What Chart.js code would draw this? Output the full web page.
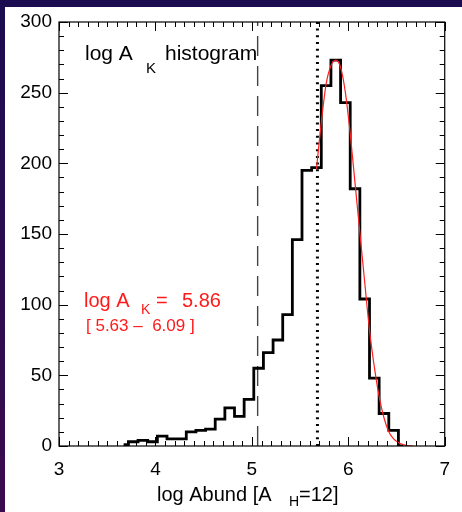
<!DOCTYPE html>
<html>
<head>
<meta charset="utf-8">
<script src="https://cdn.jsdelivr.net/npm/chart.js@4.4.0/dist/chart.umd.min.js"></script>
<style>
  html, body { margin: 0; padding: 0; }
  body { width: 462px; height: 512px; overflow: hidden;
         background: linear-gradient(to bottom, #1b0c52, #3c0b4f); }
  #wrap { position: absolute; left: 0; top: 0; width: 462px; height: 512px; }
</style>
</head>
<body>
<div id="wrap"><canvas id="hist" width="462" height="512"></canvas></div>
<script>
// histogram bins (log A_K), plotted as IDL psym=10 steps
const binCenters = [3.67, 3.77, 3.87, 3.97, 4.07, 4.17, 4.27, 4.37, 4.47, 4.57,
                    4.67, 4.77, 4.87, 4.97, 5.07, 5.17, 5.27, 5.37, 5.47, 5.57,
                    5.67, 5.77, 5.87, 5.97, 6.07, 6.17, 6.27, 6.37, 6.47, 6.57];
const counts = [1, 3, 4, 3, 7, 5, 5, 10, 11, 12,
                19, 27, 21, 33, 55, 66, 75, 93, 146, 195,
                197, 255, 273, 243, 182, 104, 48, 23, 11, 0];

// red fit
const fitX = [5.67, 5.72, 5.77, 5.82, 5.87, 5.92, 5.97, 6.02, 6.07, 6.12, 6.17,
              6.22, 6.27, 6.32, 6.37, 6.42, 6.47, 6.52, 6.57, 6.62, 6.67];
const fitY = [196, 229, 256, 269, 273, 268, 250, 221, 186, 151, 116,
              82, 56, 35, 20, 10, 5, 2.5, 1, 0.3, 0];

const dashedAt = 5.06;
const dottedAt = 5.68;
const xTicks = [3, 4, 5, 6, 7];
const yTicks = [0, 50, 100, 150, 200, 250, 300];

const FONT = "'Liberation Sans', Arial, Helvetica, sans-serif";

function pts(xs, ys) {
  return xs.map((x, i) => ({ x: x, y: ys[i] }));
}

const frame = {
  id: 'frame',
  beforeDraw(chart) {
    const ctx = chart.ctx;
    ctx.save();
    ctx.fillStyle = '#ffffff';
    ctx.fillRect(5, 7, chart.width - 5, chart.height - 7);
    ctx.restore();
  }
};

// IDL style box with inward ticks on all four sides
const boxTicks = {
  id: 'boxTicks',
  afterDatasetsDraw(chart) {
    const ctx = chart.ctx;
    const a = chart.chartArea;
    const xs = chart.scales.x, ys = chart.scales.y;
    ctx.save();
    ctx.strokeStyle = '#000';
    ctx.lineWidth = 1.2;
    ctx.strokeRect(a.left, a.top, a.right - a.left, a.bottom - a.top);
    ctx.lineWidth = 1;
    ctx.beginPath();
    for (let i = 0; i <= 40; i++) {
      const v = 3 + i * 0.1;
      const px = Math.round(xs.getPixelForValue(v)) + 0.5;
      const len = (i % 10 === 0) ? 9 : 5;
      ctx.moveTo(px, a.bottom); ctx.lineTo(px, a.bottom - len);
      ctx.moveTo(px, a.top); ctx.lineTo(px, a.top + len);
    }
    for (let i = 0; i <= 30; i++) {
      const v = i * 10;
      const py = Math.round(ys.getPixelForValue(v)) + 0.5;
      const len = (i % 5 === 0) ? 9 : 5;
      ctx.moveTo(a.left, py); ctx.lineTo(a.left + len, py);
      ctx.moveTo(a.right, py); ctx.lineTo(a.right - len, py);
    }
    ctx.stroke();
    ctx.restore();
  }
};

function txt(ctx, s, x, y, size, color) {
  ctx.font = size + 'px ' + FONT;
  ctx.fillStyle = color;
  ctx.fillText(s, x, y);
}

const labels = {
  id: 'labels',
  afterDraw(chart) {
    const ctx = chart.ctx;
    ctx.save();
    ctx.textAlign = 'left';
    ctx.textBaseline = 'alphabetic';
    // title in the box
    txt(ctx, 'log A', 85, 60, 21, '#000');
    txt(ctx, 'K', 146, 73, 15, '#000');
    txt(ctx, 'histogram', 165, 60, 21, '#000');
    // red result
    txt(ctx, 'log A', 84, 307, 20, '#ff1a1a');
    txt(ctx, 'K', 141, 314, 14, '#ff1a1a');
    txt(ctx, '=', 156, 307, 20, '#ff1a1a');
    txt(ctx, '5.86', 182, 307, 20, '#ff1a1a');
    txt(ctx, '[ 5.63 \u2013  6.09 ]', 86, 331, 17, '#ff1a1a');
    // x axis title
    txt(ctx, 'log Abund [A', 157, 501, 20, '#000');
    txt(ctx, 'H', 289, 506, 14, '#000');
    txt(ctx, '=12]', 299, 501, 20, '#000');
    ctx.restore();
  }
};

new Chart(document.getElementById("hist"), {
  type: 'line',
  data: {
    datasets: [
      {
        label: 'fit',
        data: pts(fitX, fitY),
        borderColor: '#ff2020',
        borderWidth: 1.2,
        pointRadius: 0,
        tension: 0.4,
        cubicInterpolationMode: 'monotone',
        fill: false
      },
      {
        label: 'log A_K histogram',
        data: pts(binCenters, counts),
        borderColor: '#000',
        borderWidth: 2.8,
        pointRadius: 0,
        stepped: 'middle',
        fill: false
      },
      {
        label: 'dotted',
        data: pts([dottedAt, dottedAt], [0, 300]),
        borderColor: '#000',
        borderWidth: 3,
        borderDash: [2, 4.7],
        pointRadius: 0
      },
      {
        label: 'dashed',
        data: pts([dashedAt, dashedAt], [0, 300]),
        borderColor: '#444',
        borderWidth: 1.4,
        borderDash: [20, 10],
        pointRadius: 0
      }
    ]
  },
  options: {
    responsive: false,
    animation: false,
    events: [],
    layout: { padding: { top: 22, right: 16, left: 0, bottom: 0 } },
    plugins: { legend: { display: false }, tooltip: { enabled: false } },
    scales: {
      x: {
        type: 'linear', min: 3, max: 7,
        grid: { display: false, drawTicks: false },
        border: { display: false },
        afterBuildTicks: s => { s.ticks = xTicks.map(v => ({ value: v })); },
        ticks: { color: '#000', font: { family: FONT, size: 19 }, padding: 12, maxRotation: 0 },
        afterFit: s => { s.height = 66; }
      },
      y: {
        min: 0, max: 300,
        grid: { display: false, drawTicks: false },
        border: { display: false },
        afterBuildTicks: s => { s.ticks = yTicks.map(v => ({ value: v })); },
        ticks: { color: '#000', font: { family: FONT, size: 19 }, padding: 7 },
        afterFit: s => { s.width = 59; }
      }
    }
  },
  plugins: [frame, boxTicks, labels]
});
</script>
</body>
</html>
